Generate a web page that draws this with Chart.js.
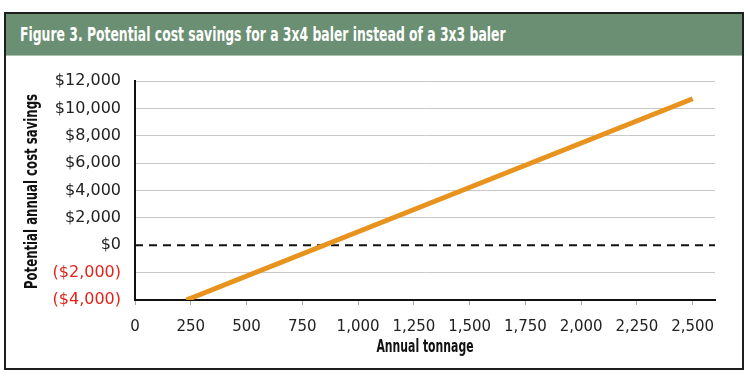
<!DOCTYPE html>
<html>
<head>
<meta charset="utf-8">
<script src="https://cdn.jsdelivr.net/npm/chart.js@4"></script>
<style>
  html, body { margin: 0; padding: 0; background: #fff; }
  body { width: 750px; height: 377px; position: relative; overflow: hidden; }
  #frame {
    position: absolute; left: 4px; top: 12px; width: 740px; height: 358px;
    box-sizing: border-box; border: 2px solid #1e1e1e;
  }
  #header {
    position: absolute; left: 0; top: 0; right: 0; height: 41px;
    background: #6b8f73; border-bottom: 1px solid #a9c1ad;
  }
  #header span {
    position: absolute; left: 14px; top: 0;
    color: #fff; font-family: "DejaVu Sans", sans-serif; font-weight: bold; font-size: 20px;
    line-height: 40px; white-space: nowrap;
    transform: scaleX(0.62); transform-origin: left center;
  }
  #wrap { position: absolute; left: 0; top: 0; width: 750px; height: 377px; }
</style>
</head>
<body>
<div id="frame"><div id="header"><span>Figure 3. Potential cost savings for a 3x4 baler instead of a 3x3 baler</span></div></div>
<div id="wrap"><canvas id="chart" width="750" height="377"></canvas></div>
<script>
// data
const tonnage = [230, 2500];
const savings = [-4000, 10700];
const xTicks = [0, 250, 500, 750, 1000, 1250, 1500, 1750, 2000, 2250, 2500];
const yTicks = [-4000, -2000, 0, 2000, 4000, 6000, 8000, 10000, 12000];
const zeroLine = 0;
const xTitle = 'Annual tonnage';
const yTitle = 'Potential annual cost savings';

function money(v) {
  const s = '$' + Math.abs(v).toLocaleString('en-US');
  return v < 0 ? '(' + s + ')' : s;
}

// dashed break-even line at $0
const zeroLinePlugin = {
  id: 'zeroLine',
  beforeDatasetsDraw(chart) {
    const y = chart.scales.y.getPixelForValue(zeroLine);
    const a = chart.chartArea;
    const ctx = chart.ctx;
    ctx.save();
    ctx.strokeStyle = '#111';
    ctx.lineWidth = 2;
    ctx.setLineDash([8, 6]);
    ctx.beginPath();
    ctx.moveTo(a.left, y);
    ctx.lineTo(a.right, y);
    ctx.stroke();
    ctx.restore();
  }
};

// condensed bold axis titles (the original uses a narrow face)
const axisTitlesPlugin = {
  id: 'axisTitles',
  afterDraw(chart) {
    const a = chart.chartArea;
    const ctx = chart.ctx;
    ctx.save();
    ctx.font = 'bold 17px "DejaVu Sans"';
    ctx.fillStyle = '#111';
    ctx.textAlign = 'center';
    ctx.textBaseline = 'middle';

    ctx.save();
    ctx.translate((a.left + a.right) / 2, 348);
    ctx.scale(0.64, 1);
    ctx.fillText(xTitle, 0, 0);
    ctx.restore();

    ctx.save();
    ctx.translate(33, (a.top + a.bottom) / 2 + 1);
    ctx.rotate(-Math.PI / 2);
    ctx.scale(0.69, 1);
    ctx.fillText(yTitle, 0, 0);
    ctx.restore();

    ctx.restore();
  }
};

new Chart(document.getElementById('chart'), {
  type: 'scatter',
  data: {
    datasets: [{
      data: tonnage.map((t, i) => ({ x: t, y: savings[i] })),
      showLine: true,
      borderColor: '#e8931e',
      borderWidth: 5,
      pointRadius: 0,
      borderCapStyle: 'butt'
    }]
  },
  options: {
    responsive: false,
    animation: false,
    layout: { padding: { left: 0, top: 81, right: 35, bottom: 0 } },
    plugins: { legend: { display: false }, tooltip: { enabled: false } },
    scales: {
      x: {
        type: 'linear',
        min: 0,
        max: 2600,
        afterBuildTicks: (scale) => { scale.ticks = xTicks.map(v => ({ value: v })); },
        afterFit: (scale) => { scale.height = 77; },
        grid: { drawOnChartArea: false, drawTicks: true, tickLength: 5, tickColor: '#aaa' },
        border: { color: '#111', width: 2 },
        ticks: {
          font: { family: 'DejaVu Sans', size: 15 }, color: '#222', padding: 13, maxRotation: 0,
          callback: (v) => v.toLocaleString('en-US')
        }
      },
      y: {
        min: -4000,
        max: 12000,
        afterBuildTicks: (scale) => { scale.ticks = yTicks.map(v => ({ value: v })); },
        afterFit: (scale) => { scale.width = 135; },
        grid: {
          drawTicks: false,
          color: (ctx) => (ctx.tick && ctx.tick.value === zeroLine) ? 'rgba(0,0,0,0)' : '#c9c9c9'
        },
        border: { color: '#111', width: 2 },
        ticks: {
          font: { family: 'DejaVu Sans', size: 16 }, padding: 14,
          color: (ctx) => (ctx.tick && ctx.tick.value < 0) ? '#e2231a' : '#222',
          callback: (v) => money(v)
        }
      }
    }
  },
  plugins: [zeroLinePlugin, axisTitlesPlugin]
});
</script>
</body>
</html>
